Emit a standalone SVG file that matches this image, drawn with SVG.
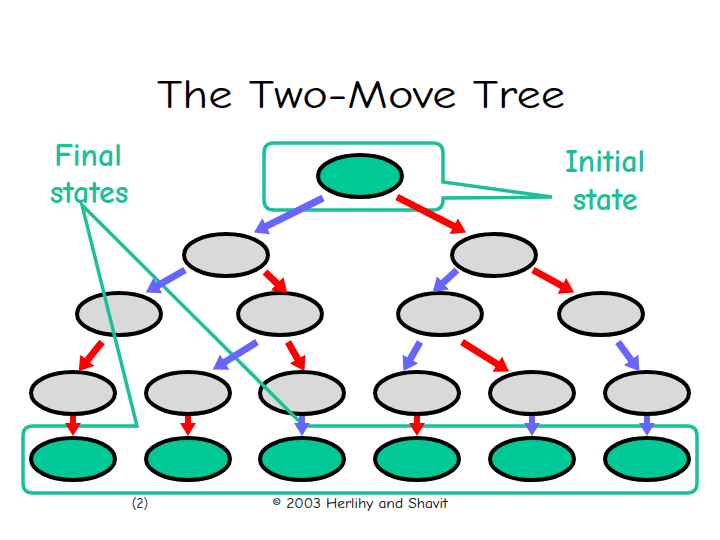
<svg xmlns="http://www.w3.org/2000/svg" width="720" height="540" viewBox="0 0 720 540">
<style>
.st{stroke:#000;stroke-width:4}
.g{fill:#D9D9D9}
.f{fill:#00C896}
.co{fill:none;stroke:#1DBF9A;stroke-width:3.5;stroke-linejoin:miter}
.lbl{font-family:"Comic Neue","Liberation Sans",sans-serif;fill:#1DBF9A;font-size:32px;font-weight:bold;text-anchor:middle}
.r{stroke:#FF0000;stroke-width:7;fill:none;marker-end:url(#hr)}
.b{stroke:#6666FF;stroke-width:7;fill:none;marker-end:url(#hb)}
.rs{stroke:#FF0000;stroke-width:6;fill:none;marker-end:url(#hrs)}
.bs{stroke:#6666FF;stroke-width:6;fill:none;marker-end:url(#hbs)}
.ft{font-family:"Comic Neue","Liberation Sans",sans-serif;fill:#000;text-anchor:middle}
</style>
<defs>
<marker id="hr" viewBox="0 0 14 18" markerWidth="14" markerHeight="18" refX="1" refY="9" orient="auto" markerUnits="userSpaceOnUse"><path d="M0,0 L14,9 L0,18z" fill="#FF0000"/></marker>
<marker id="hb" viewBox="0 0 14 18" markerWidth="14" markerHeight="18" refX="1" refY="9" orient="auto" markerUnits="userSpaceOnUse"><path d="M0,0 L14,9 L0,18z" fill="#6666FF"/></marker>
<marker id="hrs" viewBox="0 0 13 16" markerWidth="13" markerHeight="16" refX="1" refY="8" orient="auto" markerUnits="userSpaceOnUse"><path d="M0,0 L13,8 L0,16z" fill="#FF0000"/></marker>
<marker id="hbs" viewBox="0 0 13 16" markerWidth="13" markerHeight="16" refX="1" refY="8" orient="auto" markerUnits="userSpaceOnUse"><path d="M0,0 L13,8 L0,16z" fill="#6666FF"/></marker>
</defs>
<rect width="720" height="540" fill="#fff"/>
<text x="361" y="108" font-family="'Comic Neue','Liberation Sans',sans-serif" font-size="40" text-anchor="middle" textLength="408" lengthAdjust="spacingAndGlyphs" fill="#000">The Two-Move Tree</text>

<g id="n0"><ellipse class="st f" cx="360" cy="176" rx="42" ry="21"/></g>
<g id="n1"><ellipse class="st g" cx="226" cy="255" rx="42" ry="21"/></g>
<g id="n2"><ellipse class="st g" cx="494" cy="255" rx="42" ry="21"/></g>
<g id="n3"><ellipse class="st g" cx="119" cy="314" rx="42" ry="21"/></g>
<g id="n4"><ellipse class="st g" cx="280" cy="314" rx="42" ry="21"/></g>
<g id="n5"><ellipse class="st g" cx="440" cy="314" rx="42" ry="21"/></g>
<g id="n6"><ellipse class="st g" cx="601" cy="314" rx="42" ry="21"/></g>
<g id="n7"><ellipse class="st g" cx="73" cy="393" rx="42" ry="21"/></g>
<g id="n8"><ellipse class="st g" cx="188" cy="393" rx="42" ry="21"/></g>
<g id="n9"><ellipse class="st g" cx="302" cy="393" rx="42" ry="21"/></g>
<g id="n10"><ellipse class="st g" cx="417" cy="393" rx="42" ry="21"/></g>
<g id="n11"><ellipse class="st g" cx="532" cy="393" rx="42" ry="21"/></g>
<g id="n12"><ellipse class="st g" cx="647" cy="393" rx="42" ry="21"/></g>
<g id="n13"><ellipse class="st f" cx="73" cy="459" rx="42" ry="21"/></g>
<g id="n14"><ellipse class="st f" cx="188" cy="459" rx="42" ry="21"/></g>
<g id="n15"><ellipse class="st f" cx="302" cy="459" rx="42" ry="21"/></g>
<g id="n16"><ellipse class="st f" cx="417" cy="459" rx="42" ry="21"/></g>
<g id="n17"><ellipse class="st f" cx="532" cy="459" rx="42" ry="21"/></g>
<g id="n18"><ellipse class="st f" cx="647" cy="459" rx="42" ry="21"/></g>

<g id="callout-initial">
<path class="co" d="M274,143 H433 Q443,143 443,153 V182 L552,197 L443,198 V200 Q443,210 433,210 H274 Q264,210 264,200 V153 Q264,143 274,143 Z"/>
<text class="lbl" x="605" y="172">Initial</text>
<text class="lbl" x="605" y="210">state</text>
</g>
<g id="callout-final">
<path class="co" d="M137,426 L82,205 L304,426 H687 Q697,426 697,436 V483 Q697,493 687,493 H33 Q23,493 23,483 V436 Q23,426 33,426 Z"/>
<text class="lbl" x="88" y="166">Final</text>
<text class="lbl" x="89" y="203">states</text>
</g>

<g id="connectors">
<line class="b" x1="323" y1="198" x2="265.5" y2="226.7"/>
<line class="r" x1="397" y1="197" x2="454.6" y2="226.6"/>
<line class="b" x1="185" y1="270" x2="157.1" y2="286"/>
<line class="r" x1="265" y1="272" x2="277.9" y2="284.3"/>
<line class="b" x1="457" y1="270" x2="442.3" y2="283.5"/>
<line class="r" x1="533" y1="270" x2="562.7" y2="286.3"/>
<line class="r" x1="102" y1="342" x2="86.75" y2="361.1"/>
<line class="b" x1="257" y1="342" x2="223.9" y2="362.6"/>
<line class="r" x1="288" y1="342" x2="298.1" y2="359.8"/>
<line class="b" x1="420" y1="342" x2="409.9" y2="359.8"/>
<line class="r" x1="462" y1="342" x2="498.1" y2="364.6"/>
<line class="b" x1="618" y1="342" x2="631.7" y2="360.7"/>
<line class="rs" x1="73" y1="416" x2="73" y2="424"/>
<line class="rs" x1="188" y1="416" x2="188" y2="424"/>
<line class="bs" x1="302" y1="416" x2="302" y2="424"/>
<line class="rs" x1="417" y1="416" x2="417" y2="424"/>
<line class="bs" x1="532" y1="416" x2="532" y2="424"/>
<line class="bs" x1="647" y1="416" x2="647" y2="424"/>
</g>

<text class="ft" x="140" y="508" font-size="13">(2)</text>
<text class="ft" x="360" y="508" font-size="14" textLength="175" lengthAdjust="spacingAndGlyphs">© 2003 Herlihy and Shavit</text>
</svg>
